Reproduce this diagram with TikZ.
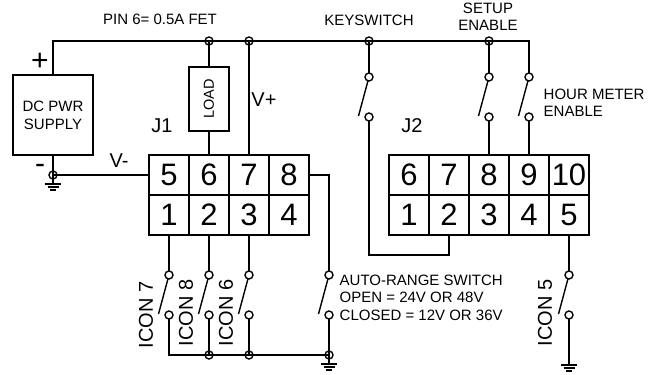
\documentclass[tikz,border=0pt]{standalone}
\usepackage{fontspec}
\setmainfont{Liberation Sans}
\usetikzlibrary{positioning}
\newcommand{\fsize}[1]{\fontsize{#1}{#1}\selectfont}
\newcommand{\gnd}[1]{%
  \draw (#1) -- ++(0,9);
  \draw ([shift={(-8,9)}]#1) -- ++(16,0);
  \draw ([shift={(-5.5,12)}]#1) -- ++(11,0);
  \draw ([shift={(-3,15)}]#1) -- ++(6,0);
}

\begin{document}
\begin{tikzpicture}[x=1pt, y=-1pt, line width=1.4pt, node distance=0pt]
    \tikzstyle{cell}=[draw, outer sep=0pt, inner sep=0pt, minimum size=40pt, font=\fsize{31}]
    \tikzstyle{contact}=[draw, circle, inner sep=0pt, minimum size=8pt, outer sep=0pt]
    \tikzstyle{junction}=[contact]
    \tikzstyle{lbl}=[inner sep=0pt, font=\fsize{15}, align=left]
    \tikzstyle{big}=[inner sep=0pt, font=\fsize{20}]
    \useasboundingbox (0,0) rectangle (662,375);

    % power supply and load
    \node (psu) [draw, outer sep=0pt, minimum width=80pt, minimum height=80pt, align=center, font=\fsize{15}] at (53,115) {DC PWR\\[3pt]SUPPLY};
    \node (load) [draw, outer sep=0pt, inner sep=0pt, minimum width=40pt, minimum height=64pt] at (209,99) {\rotatebox{90}{\fsize{14.5}LOAD}};

    % J1
    \begin{scope}[every node/.style=cell]
      \node (a5) at (169,175) {5};
      \node (a6) [right=of a5] {6};
      \node (a7) [right=of a6] {7};
      \node (a8) [right=of a7] {8};
      \node (a1) [below=of a5] {1};
      \node (a2) [right=of a1] {2};
      \node (a3) [right=of a2] {3};
      \node (a4) [right=of a3] {4};
    \end{scope}

    % J2
    \begin{scope}[every node/.style=cell]
      \node (b6) at (409,175) {6};
      \node (b7) [right=of b6] {7};
      \node (b8) [right=of b7] {8};
      \node (b9) [right=of b8] {9};
      \node (b10) [right=of b9] {10};
      \node (b1) [below=of b6] {1};
      \node (b2) [right=of b1] {2};
      \node (b3) [right=of b2] {3};
      \node (b4) [right=of b3] {4};
      \node (b5) [right=of b4] {5};
    \end{scope}

    % junctions
    \begin{scope}[every node/.style=junction]
      \node (j6) at (209,41) {};
      \node (j7) at (249,41) {};
      \node (jkey) at (369,41) {};
      \node (jset) at (489,41) {};
      \node (jneg) at (53,175) {};
      \node (jb) at (209,355) {};
      \node (jc) at (249,355) {};
      \node (jd) at (329,355) {};
    \end{scope}

    % upper switches
    \begin{scope}[every node/.style=contact]
      \node (kt) at (369,77) {};
      \node (kb) [below=32pt of kt] {};
      \node (st) at (489,77) {};
      \node (sb) [below=32pt of st] {};
      \node (ht) at (529,77) {};
      \node (hb) [below=32pt of ht] {};
    \end{scope}

    % lower switches
    \begin{scope}[every node/.style=contact]
      \node (i7t) [below=36pt of a1] {};
      \node (i7b) [below=32pt of i7t] {};
      \node (i8t) [below=36pt of a2] {};
      \node (i8b) [below=32pt of i8t] {};
      \node (i6t) [below=36pt of a3] {};
      \node (i6b) [below=32pt of i6t] {};
      \node (art) at (329,275) {};
      \node (arb) [below=32pt of art] {};
      \node (i5t) [below=36pt of b5] {};
      \node (i5b) [below=32pt of i5t] {};
    \end{scope}

    \coordinate (railend) at (529,41);
    \coordinate (busend) at (169,355);
    \coordinate (a8turn) at (329,175);
    \coordinate (keyturn) at (369,255);
    \coordinate (b2turn) at (449,255);
    \coordinate (gndr) at (569,356);

    % rails
    \draw (psu.north) |- (railend) -- (ht);
    \draw (psu.south) -- (jneg.center) -- (a5.west);
    \draw (j6.center) -- (load.north);
    \draw (load.south) -- (a6.north);
    \draw (j7.center) -- (a7.north);
    \draw (jkey.center) -- (kt);
    \draw (jset.center) -- (st);
    \draw (sb) -- (b8.north);
    \draw (hb) -- (b9.north);
    \draw (kb) -- (keyturn) -- (b2turn) -- (b2.south);
    \draw (a1.south) -- (i7t);
    \draw (a2.south) -- (i8t);
    \draw (a3.south) -- (i6t);
    \draw (a8.east) -- (a8turn) -- (art);
    \draw (b5.south) -- (i5t);
    \draw (i7b) -- (busend) -- (jd.center);
    \draw (i8b) -- (jb.center);
    \draw (i6b) -- (jc.center);
    \draw (arb) -- (jd.center);
    \draw (i5b) -- (gndr);

    % switch arms
    \foreach \sw in {k,s,h,i7,i8,i6,ar,i5} {
      \coordinate (\sw tip) at ([shift={(-10.5,-1)}]\sw b.center);
      \draw (\sw t) -- (\sw tip);
    }

    % grounds
    \gnd{jneg.center}
    \gnd{jd.center}
    \gnd{gndr}

    % labels
    \node (pin) [lbl] at (160,19) {PIN 6= 0.5A FET};
    \node (keyl) [lbl] at (369,20) {KEYSWITCH};
    \node (setl) [lbl, align=center] at (488,17) {SETUP\\[2.5pt]ENABLE};
    \node (hourl) [lbl, anchor=west] at (543,103) {HOUR METER\\[2.5pt]ENABLE};
    \node (autol) [lbl, anchor=west] at (339,297.5) {AUTO-RANGE SWITCH\\[2.5pt]OPEN = 24V OR 48V\\[2.5pt]CLOSED = 12V OR 36V};
    \node (plus) [inner sep=0pt, font=\fsize{30}] at (40,62) {+};
    \node (minus) [inner sep=0pt, font=\fsize{30}] at (40,169) {-};
    \node (vm) [big] at (119,161) {V-};
    \node (vp) [big] at (264,100) {V+};
    \node (j1l) [big] at (162,126) {J1};
    \node (j2l) [big] at (412,126) {J2};
    \node (i7l) [big, rotate=90] at (146,315) {ICON 7};
    \node (i8l) [big, rotate=90] at (186,313) {ICON 8};
    \node (i6l) [big, rotate=90] at (226,313) {ICON 6};
    \node (i5l) [big, rotate=90] at (545,313) {ICON 5};
\end{tikzpicture}
\end{document}
